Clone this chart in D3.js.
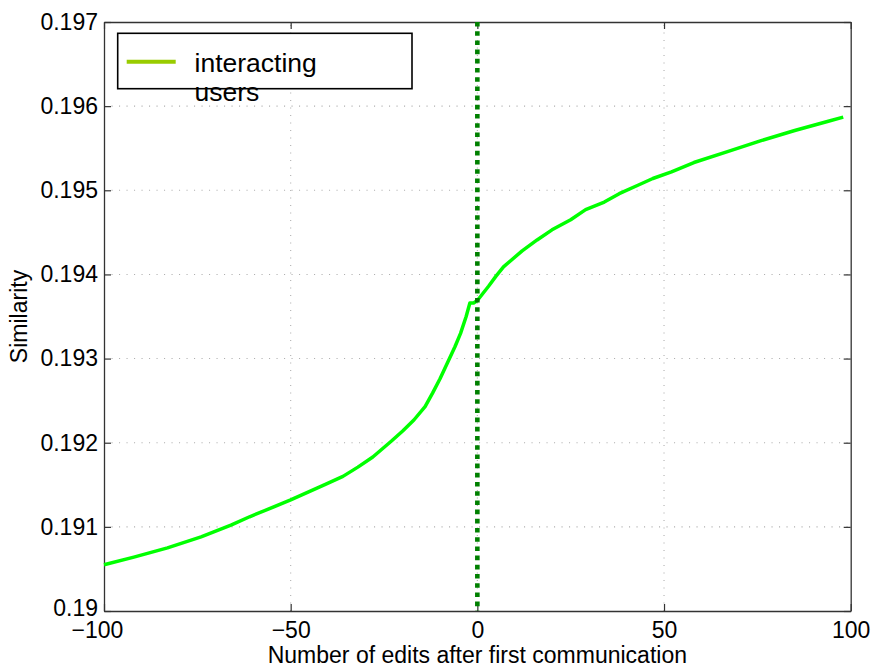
<!DOCTYPE html>
<html>
<head>
<meta charset="utf-8">
<script src="https://cdn.jsdelivr.net/npm/d3@7"></script>
<style>
  html, body { margin: 0; padding: 0; background: #fff; }
  svg { display: block; font-family: "Liberation Sans", Arial, Helvetica, sans-serif; }
</style>
</head>
<body>
<svg id="chart" width="871" height="668"></svg>
<script>
// Similarity of interacting users around their first communication
const edits = [-100, -92, -83, -74, -66, -61, -56, -50, -47, -41, -36, -32, -28, -23, -20, -17, -14, -12, -10, -8,
  -6, -4.5, -3, -2, -1,
  0, 3, 5, 7, 12, 16, 20, 25, 29, 34, 38, 43, 47, 52, 58, 67, 76, 85, 94, 98];
const similarity = [0.19055, 0.19064, 0.19075, 0.19088, 0.19102, 0.19112, 0.19121, 0.19132, 0.19138, 0.19150,
  0.19160, 0.19171, 0.19183, 0.19202, 0.19214, 0.19227, 0.19243, 0.19259, 0.19276, 0.19295,
  0.19314, 0.19330, 0.19350, 0.19366, 0.19366,
  0.19369, 0.19386, 0.19398, 0.19409, 0.19428, 0.19441, 0.19453, 0.19465, 0.19477, 0.19486, 0.19496,
  0.19506, 0.19514, 0.19522, 0.19533, 0.19546, 0.19559, 0.19571, 0.19582, 0.19587];

const xTicks = [-100, -50, 0, 50, 100];
const xTickLabels = ["\u2212100", "\u221250", "0", "50", "100"];
const yTicks = [0.190, 0.191, 0.192, 0.193, 0.194, 0.195, 0.196, 0.197];
const yTickLabels = ["0.19", "0.191", "0.192", "0.193", "0.194", "0.195", "0.196", "0.197"];
const seriesName = ["interacting", "users"];
const markerX = 0;

const plotL = 104, plotR = 850.7, plotT = 22, plotB = 611;
const svg = d3.select("#chart");
const x = d3.scaleLinear().domain([-100, 100]).range([plotL, plotR]);
const y = d3.scaleLinear().domain([0.19, 0.197]).range([plotB, plotT]);

// dotted grid
const grid = svg.append("g").attr("stroke", "#b0b0b0").attr("stroke-width", 1.1)
  .attr("stroke-dasharray", "1.1,6.4");
grid.selectAll("line.gx").data(xTicks.slice(1, -1)).join("line").attr("class", "gx")
  .attr("x1", d => x(d)).attr("x2", d => x(d)).attr("y1", plotB).attr("y2", plotT);
grid.selectAll("line.gy").data(yTicks.slice(1, -1)).join("line").attr("class", "gy")
  .attr("y1", d => y(d)).attr("y2", d => y(d)).attr("x1", plotL).attr("x2", plotR);

// axes (inward ticks on all four sides)
const fontSize = 23;
const styleAxis = g => {
  g.select(".domain").attr("stroke", "#333").attr("stroke-width", 1.3);
  g.selectAll(".tick line").attr("stroke", "#333").attr("stroke-width", 1.2);
  g.selectAll("text").attr("fill", "#000").attr("font-size", fontSize)
    .attr("font-family", "Liberation Sans, Arial, sans-serif");
};
svg.append("g").attr("transform", `translate(0,${plotB})`)
  .call(d3.axisBottom(x).tickValues(xTicks).tickSize(-7).tickSizeOuter(0).tickPadding(11)
    .tickFormat((d, i) => xTickLabels[i]))
  .call(styleAxis)
  .call(g => g.selectAll(".tick text").attr("dx", d => d === -100 ? -7 : 0));
svg.append("g").attr("transform", `translate(0,${plotT})`)
  .call(d3.axisTop(x).tickValues(xTicks).tickSize(-7).tickSizeOuter(0).tickFormat(""))
  .call(styleAxis);
svg.append("g").attr("transform", `translate(${plotL},0)`)
  .call(d3.axisLeft(y).tickValues(yTicks).tickSize(-7).tickSizeOuter(0).tickPadding(6)
    .tickFormat((d, i) => yTickLabels[i]))
  .call(styleAxis)
  .call(g => g.selectAll(".tick text").attr("dy", d => d === 0.19 ? "0.2em" : "0.32em"));
svg.append("g").attr("transform", `translate(${plotR},0)`)
  .call(d3.axisRight(y).tickValues(yTicks).tickSize(-7).tickSizeOuter(0).tickFormat(""))
  .call(styleAxis);

// axis titles
svg.append("text").attr("x", (plotL + plotR) / 2).attr("y", 663)
  .attr("text-anchor", "middle").attr("font-size", fontSize)
  .text("Number of edits after first communication");
svg.append("text").attr("transform", `translate(27,${(plotT + plotB) / 2}) rotate(-90)`)
  .attr("text-anchor", "middle").attr("font-size", fontSize)
  .text("Similarity");

// similarity curve
const line = d3.line().x((d, i) => x(edits[i])).y(d => y(d));
svg.append("path").datum(similarity)
  .attr("d", line).attr("fill", "none")
  .attr("stroke", "#00ff00").attr("stroke-width", 3.5)
  .attr("stroke-linejoin", "round");

// first communication marker
svg.append("line")
  .attr("x1", x(markerX)).attr("x2", x(markerX))
  .attr("y1", y(0.197)).attr("y2", y(0.19))
  .attr("stroke", "#008000").attr("stroke-width", 4.6)
  .attr("stroke-dasharray", "4.6,4.6");

// legend
const lg = svg.append("g");
lg.append("rect").attr("x", 117.7).attr("y", 33.3).attr("width", 294.3).attr("height", 55.4)
  .attr("fill", "#fff").attr("stroke", "#000").attr("stroke-width", 1.6);
lg.append("line").attr("x1", 126.7).attr("x2", 175.7).attr("y1", 61.7).attr("y2", 61.7)
  .attr("stroke", "#99cc00").attr("stroke-width", 4);
lg.selectAll("text").data(seriesName).join("text")
  .attr("x", 194.5).attr("y", (d, i) => 72 + i * 29)
  .attr("font-size", 26.5).attr("fill", "#000")
  .text(d => d);
</script>
</body>
</html>
